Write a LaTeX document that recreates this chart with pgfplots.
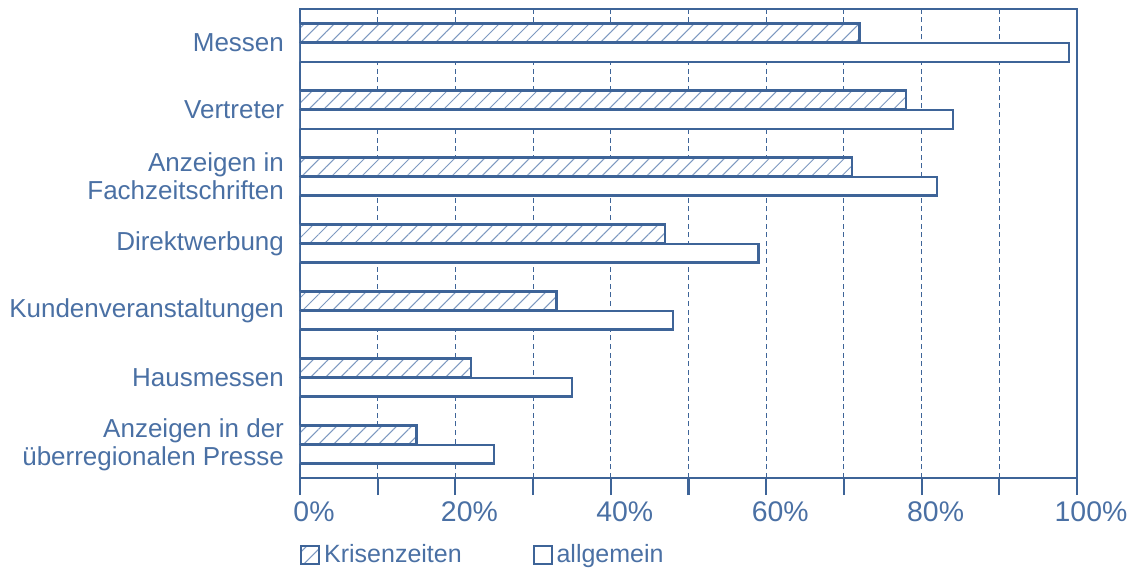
\documentclass[border=0pt]{standalone}
\usepackage{pgfplots}
\pgfplotsset{compat=1.18}
\usepackage{fontspec}
\setmainfont{Liberation Sans}
\usetikzlibrary{patterns.meta}
\definecolor{cblue}{RGB}{62,100,152}
\definecolor{ctext}{RGB}{74,112,164}
\definecolor{chatch}{RGB}{125,152,192}
\pgfplotsset{boxlegend/.style={legend image code/.code={\draw[##1, line width=0.9pt] (0pt,-4.5pt) rectangle (9pt,4.5pt);}}}
\begin{document}
\begin{tikzpicture}
\begin{axis}[
  scale only axis, width=388.5pt, height=234.5pt,
  xmin=0, xmax=100, ymin=-0.5, ymax=6.5,
  xbar, bar width=0.28,
  axis line style={cblue, line width=1.1pt},
  xtick={0,20,...,100}, minor xtick={10,30,...,90},
  xticklabel={\pgfmathprintnumber{\tick}\%},
  xtick pos=bottom, ytick pos=left, tick align=outside,
  major tick length=8.5pt, minor tick length=8.5pt,
  xtick style={cblue, line width=1.1pt},
  minor tick style={cblue, line width=1.1pt},
  xmajorgrids, xminorgrids,
  grid style={cblue, dash pattern=on 2.5pt off 1.8pt, line width=0.55pt},
  ytick={0,...,6},
  yticklabels={{Anzeigen in der\\überregionalen Presse}, Hausmessen, Kundenveranstaltungen, Direktwerbung, {Anzeigen in\\Fachzeitschriften}, Vertreter, Messen},
  ytick style={draw=none},
  yticklabel style={align=right, font=\fontsize{13}{13.8}\selectfont, text=ctext, xshift=4pt},
  xticklabel style={font=\fontsize{14.2}{16}\selectfont, text=ctext, xshift=7pt},
  /pgf/number format/assume math mode=true,
  legend style={draw=none, fill=none, at={(rel axis cs:0,0)}, anchor=north west, yshift=-31pt, inner sep=0pt,
    font=\fontsize{12.5}{15}\selectfont, text=ctext, legend columns=2,
    /tikz/every even column/.append style={column sep=33.5pt}},
]
\addplot[draw=cblue, line width=1.1pt, preaction={fill=white}, pattern={Lines[angle=45,distance=5.3pt,line width=0.5pt]}, pattern color=chatch, bar shift=0.145, boxlegend]
  coordinates {(15,0) (22,1) (33,2) (47,3) (71,4) (78,5) (72,6)};
\addlegendentry{Krisenzeiten}
\addplot[draw=cblue, line width=1.1pt, fill=white, bar shift=-0.145, boxlegend]
  coordinates {(25,0) (35,1) (48,2) (59,3) (82,4) (84,5) (99,6)};
\addlegendentry{allgemein}
\end{axis}
\pgfresetboundingbox
\path[use as bounding box] (-150pt,-45pt) rectangle (418pt,239pt);
\end{tikzpicture}
\end{document}
